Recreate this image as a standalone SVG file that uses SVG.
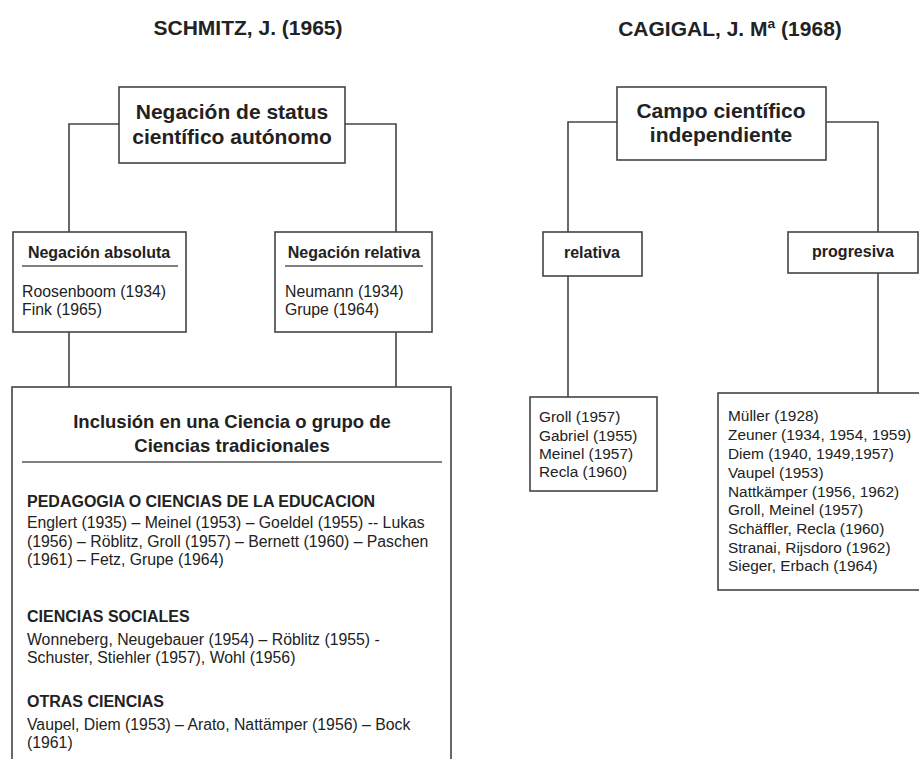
<svg xmlns="http://www.w3.org/2000/svg" width="919" height="759" viewBox="0 0 919 759">
<style>
.bx{fill:#fff;stroke:#444;stroke-width:1.6}
.ln{fill:none;stroke:#444;stroke-width:1.6}
.ul{stroke:#555;stroke-width:1.4}
text{font-family:"Liberation Sans",Arial,Helvetica,sans-serif;fill:#222}
.t{font-size:21px;font-weight:bold;text-anchor:middle}
.h{font-size:16px;font-weight:bold}
.hm{font-size:16px;font-weight:bold;text-anchor:middle}
.b{font-size:15.8px}
.r{font-size:15.4px}
.big{font-size:18.5px;font-weight:bold;text-anchor:middle}
</style>
<rect width="919" height="759" fill="#fff"/>
<text class="t" x="248" y="35">SCHMITZ, J. (1965)</text>
<text class="t" x="730" y="36">CAGIGAL, J. Mª (1968)</text>
<g id="connectors">
<polyline class="ln" points="119,124 69,124 69,232"/>
<polyline class="ln" points="345,124 396,124 396,232"/>
<line class="ln" x1="69" y1="332" x2="69" y2="387"/>
<line class="ln" x1="396" y1="332" x2="396" y2="387"/>
<polyline class="ln" points="617,122 568,122 568,232"/>
<polyline class="ln" points="826,122 878,122 878,232"/>
<line class="ln" x1="568" y1="276" x2="568" y2="397"/>
<line class="ln" x1="878" y1="273" x2="878" y2="393"/>
</g>
<g id="negacion-status">
<rect class="bx" x="119" y="87" width="226" height="76"/>
<text class="t" x="232" y="119">Negación de status</text>
<text class="t" x="232" y="144">científico autónomo</text>
</g>
<g id="negacion-absoluta">
<rect class="bx" x="13" y="232" width="173" height="100"/>
<text class="hm" x="99" y="258">Negación absoluta</text>
<line class="ul" x1="22" y1="266" x2="178" y2="266"/>
<text class="b" x="22" y="297">Roosenboom (1934)</text>
<text class="b" x="22" y="315">Fink (1965)</text>
</g>
<g id="negacion-relativa">
<rect class="bx" x="275" y="232" width="157" height="100"/>
<text class="hm" x="354" y="258">Negación relativa</text>
<line class="ul" x1="285" y1="266" x2="423" y2="266"/>
<text class="b" x="285" y="297">Neumann (1934)</text>
<text class="b" x="285" y="315">Grupe (1964)</text>
</g>
<g id="inclusion">
<rect class="bx" x="12" y="387" width="439" height="400"/>
<text class="big" x="232" y="428">Inclusión en una Ciencia o grupo de</text>
<text class="big" x="232" y="452">Ciencias tradicionales</text>
<line class="ul" x1="22" y1="462" x2="442" y2="462"/>
<text class="h" x="27" y="507">PEDAGOGIA O CIENCIAS DE LA EDUCACION</text>
<text class="b" x="27" y="528">Englert (1935) – Meinel (1953) – Goeldel (1955) -- Lukas</text>
<text class="b" x="27" y="547">(1956) – Röblitz, Groll (1957) – Bernett (1960) – Paschen</text>
<text class="b" x="27" y="565">(1961) – Fetz, Grupe (1964)</text>
<text class="h" x="27" y="622">CIENCIAS SOCIALES</text>
<text class="b" x="27" y="645">Wonneberg, Neugebauer (1954) – Röblitz (1955) -</text>
<text class="b" x="27" y="663">Schuster, Stiehler (1957), Wohl (1956)</text>
<text class="h" x="27" y="707">OTRAS CIENCIAS</text>
<text class="b" x="27" y="730">Vaupel, Diem (1953) – Arato, Nattämper (1956) – Bock</text>
<text class="b" x="27" y="748">(1961)</text>
</g>
<g id="campo-cientifico">
<rect class="bx" x="617" y="87" width="209" height="73"/>
<text class="t" x="721" y="118">Campo científico</text>
<text class="t" x="721" y="142">independiente</text>
</g>
<g id="relativa">
<rect class="bx" x="543" y="232" width="99" height="44"/>
<text class="hm" x="592" y="258">relativa</text>
</g>
<g id="progresiva">
<rect class="bx" x="788" y="232" width="130" height="41"/>
<text class="hm" x="853" y="257">progresiva</text>
</g>
<g id="relativa-autores">
<rect class="bx" x="530" y="397" width="127" height="94"/>
<text class="r" x="539" y="422">Groll (1957)</text>
<text class="r" x="539" y="441">Gabriel (1955)</text>
<text class="r" x="539" y="459">Meinel (1957)</text>
<text class="r" x="539" y="477">Recla (1960)</text>
</g>
<g id="progresiva-autores">
<rect class="bx" x="718" y="393" width="210" height="197"/>
<text class="r" x="728" y="421">Müller (1928)</text>
<text class="r" x="728" y="440">Zeuner (1934, 1954, 1959)</text>
<text class="r" x="728" y="459">Diem (1940, 1949,1957)</text>
<text class="r" x="728" y="478">Vaupel (1953)</text>
<text class="r" x="728" y="497">Nattkämper (1956, 1962)</text>
<text class="r" x="728" y="515">Groll, Meinel (1957)</text>
<text class="r" x="728" y="534">Schäffler, Recla (1960)</text>
<text class="r" x="728" y="553">Stranai, Rijsdoro (1962)</text>
<text class="r" x="728" y="571">Sieger, Erbach (1964)</text>
</g>
</svg>
